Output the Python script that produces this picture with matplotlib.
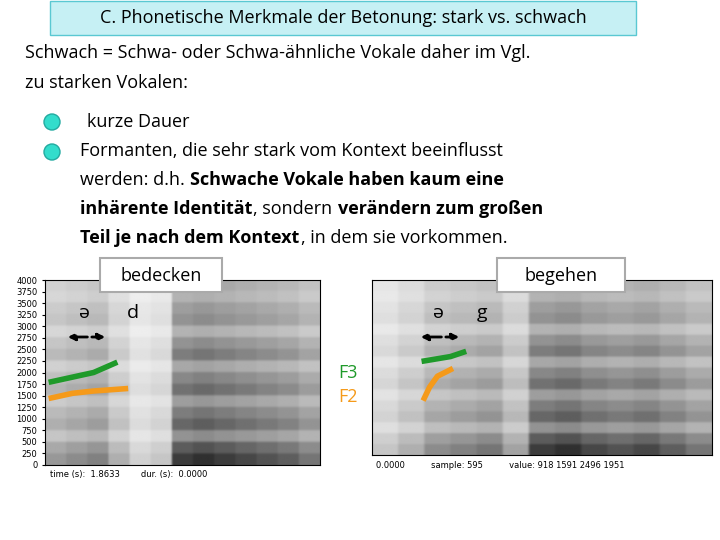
import numpy as np
import matplotlib
matplotlib.use("Agg")
import matplotlib.pyplot as plt
from matplotlib.patches import Rectangle

title = "C. Phonetische Merkmale der Betonung: stark vs. schwach"
intro = ["Schwach = Schwa- oder Schwa-ähnliche Vokale daher im Vgl.", "zu starken Vokalen:"]
yticks = [0, 250, 500, 750, 1000, 1250, 1500, 1750, 2000, 2250, 2500, 2750, 3000, 3250, 3500, 3750, 4000]
# column darkness per time segment (left: bedecken, right: begehen)
left_cols = [0.45, 0.5, 0.55, 0.35, 0.2, 0.25, 0.85, 0.9, 0.85, 0.8, 0.75, 0.7, 0.6]
right_cols = [0.25, 0.35, 0.5, 0.55, 0.6, 0.4, 0.85, 0.9, 0.8, 0.75, 0.8, 0.7, 0.6]
# row darkness per frequency band (bottom to top)
rows = [0.9, 0.75, 0.5, 0.7, 0.6, 0.45, 0.65, 0.55, 0.4, 0.6, 0.5, 0.35, 0.5, 0.45, 0.35, 0.4]
# formant traces (Hz) for schwa
lf_f3 = [1800, 1900, 2000, 2200]; lf_f2 = [1450, 1550, 1600, 1650]
rf_f3 = [2150, 2200, 2250, 2350]; rf_f2 = [1300, 1550, 1800, 1950]

fig = plt.figure(figsize=(7.2, 5.4), dpi=100)
fam = ["Open Sans", "DejaVu Sans"]

def spec(cols):
    img = np.outer(np.array(rows), np.array(cols))
    img = np.repeat(np.repeat(img, 6, axis=0), 12, axis=1)
    return img

# left spectrogram
axl = fig.add_axes([45/720, 1-465/540, 275/720, 185/540])
axl.imshow(spec(left_cols), cmap="gray_r", aspect="auto", origin="lower", extent=[0, 13, 0, 4000], vmin=0, vmax=1, interpolation="bicubic")
axl.set_yticks(yticks); axl.tick_params(labelsize=6, length=2); axl.set_xticks([])
axl.set_ylim(0, 4000)
axl.plot([0.3, 1.3, 2.3, 3.3], lf_f3, color="#1f9a2a", lw=4)
axl.plot([0.3, 1.3, 2.3, 3.8], lf_f2, color="#f59a1a", lw=4)
# right spectrogram
axr = fig.add_axes([372/720, 1-455/540, 340/720, 175/540])
axr.imshow(spec(right_cols), cmap="gray_r", aspect="auto", origin="lower", extent=[0, 13, 0, 4000], vmin=0, vmax=1, interpolation="bicubic")
axr.set_xticks([]); axr.set_yticks([]); axr.set_ylim(0, 4000)
axr.plot([2.0, 2.5, 3.0, 3.5], rf_f3, color="#1f9a2a", lw=4)
axr.plot([2.0, 2.2, 2.5, 3.0], rf_f2, color="#f59a1a", lw=4)

bg = fig.add_axes([0, 0, 1, 1]); bg.set_xlim(0, 720); bg.set_ylim(540, 0); bg.axis("off")
bg.patch.set_alpha(0)

bg.add_patch(Rectangle((50, 1), 586, 34, fc="#c6f0f4", ec="#5ac8d2", lw=1))
bg.text(343, 18, title, ha="center", va="center", fontsize=13, family=fam)
bg.text(25, 53, intro[0], va="center", fontsize=13, family=fam)
bg.text(25, 83, intro[1], va="center", fontsize=13, family=fam)
for y in (122, 152):
    bg.add_patch(plt.Circle((52, y), 8, fc="#33ddcc", ec="#22aaa0"))
bg.text(87, 122, "kurze Dauer", va="center", fontsize=13, family=fam)
bg.text(80, 151, "Formanten, die sehr stark vom Kontext beeinflusst", va="center", fontsize=13, family=fam)
bg.text(80, 180, "werden: d.h.", va="center", fontsize=13, family=fam)
bg.text(190, 180, "Schwache Vokale haben kaum eine", va="center", fontsize=13, family=fam, weight="bold")
bg.text(80, 209, "inhärente Identität", va="center", fontsize=13, family=fam, weight="bold")
bg.text(253, 209, ", sondern ", va="center", fontsize=13, family=fam)
bg.text(338, 209, "verändern zum großen", va="center", fontsize=13, family=fam, weight="bold")
bg.text(80, 238, "Teil je nach dem Kontext", va="center", fontsize=13, family=fam, weight="bold")
bg.text(301, 238, ", in dem sie vorkommen.", va="center", fontsize=13, family=fam)

for x0, w, lab in ((100, 122, "bedecken"), (497, 128, "begehen")):
    bg.add_patch(Rectangle((x0, 258), w, 34, fc="white", ec="#aaaaaa", lw=1.5))
    bg.text(x0 + w/2, 276, lab, ha="center", va="center", fontsize=13, family=fam)
bg.text(85, 313, "ə", ha="center", va="center", fontsize=14, family=fam)
bg.text(133, 313, "d", ha="center", va="center", fontsize=14, family=fam)
bg.text(438, 313, "ə", ha="center", va="center", fontsize=14, family=fam)
bg.text(482, 313, "g", ha="center", va="center", fontsize=14, family=fam)
for a, b in ((65, 108), (418, 462)):
    bg.annotate("", xy=(a, 337), xytext=(b, 337), arrowprops=dict(arrowstyle="<|-|>", ls="--", lw=2, color="black"))
bg.text(338, 373, "F3", va="center", fontsize=13, color="#1f9a2a", family=fam)
bg.text(338, 397, "F2", va="center", fontsize=13, color="#f59a1a", family=fam)
bg.text(50, 474, "time (s):  1.8633        dur. (s):  0.0000", fontsize=6, va="center")
bg.text(376, 466, "0.0000          sample: 595          value: 918 1591 2496 1951", fontsize=6, va="center")
fig.savefig("out.png", dpi=100)
